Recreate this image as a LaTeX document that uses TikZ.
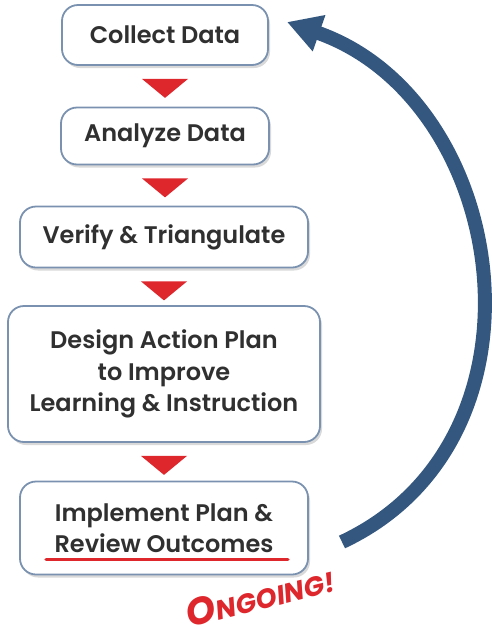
\documentclass[tikz,border=0pt]{standalone}
\usepackage{fontspec}
\setmainfont{Poppins}
\newfontfamily\stagefont{Poppins SemiBold}
\usetikzlibrary{shadows,arrows.meta,calc}
\definecolor{boxline}{RGB}{122,146,176}
\definecolor{cyclearrow}{RGB}{52,87,128}
\definecolor{steptri}{RGB}{222,38,45}
\definecolor{boxtext}{RGB}{48,48,48}
\tikzset{
  stage/.style={draw=boxline, line width=1.8pt, fill=white, rounded corners=16pt,
    align=center, text=boxtext, inner sep=0pt,
    font=\stagefont\fontsize{24}{31.5}\selectfont,
    drop shadow={shadow xshift=2pt, shadow yshift=-3pt, opacity=0.3, fill=gray}},
  steparrow/.style={fill=steptri}
}
\begin{document}
\begin{tikzpicture}[x=1pt, y=-1pt]
  \useasboundingbox (0,0) rectangle (491,630);
  % the five stages
  \node[stage, minimum width=206pt, minimum height=60pt] (collect) at (165,35) {Collect Data};
  \node[stage, minimum width=208pt, minimum height=57pt] (analyze) at (165,136) {Analyze Data};
  \node[stage, minimum width=288pt, minimum height=61pt] (verify) at (164,237) {Verify \& Triangulate};
  \node[stage, minimum width=312pt, minimum height=136pt] (design) at (164,374)
    {Design Action Plan\\to Improve\\Learning \& Instruction};
  \node[stage, minimum width=288pt, minimum height=93pt] (implement) at (164,528)
    {Implement Plan \&\\Review Outcomes};
  % red pointers between stages
  \foreach \a in {collect, analyze, verify, design}
    \fill[steparrow] ($(\a.south)+(-23,13)$) -- ++(46,0) -- ($(\a.south)+(0,32)$) -- cycle;
  \draw[steptri, line width=3.5pt, line cap=round]
    ($(implement.south west)+(27,-16)$) -- ($(implement.south east)+(-21,-16)$);
  % loop back
  \coordinate (loopstart) at (342,542);
  \coordinate (loopend) at (287,22);
  \draw[cyclearrow, line width=14pt, -{Triangle[width=36pt,length=34pt]}]
    (loopstart) .. controls (560,440) and (510,100) .. (loopend);
  \node[text=steptri, font=\bfseries\itshape, rotate=14, inner sep=1pt] (ongoing) at (260,596)
    {{\fontsize{38}{38}\selectfont O}{\fontsize{27}{27}\selectfont NGOING!}};
\end{tikzpicture}
\end{document}
